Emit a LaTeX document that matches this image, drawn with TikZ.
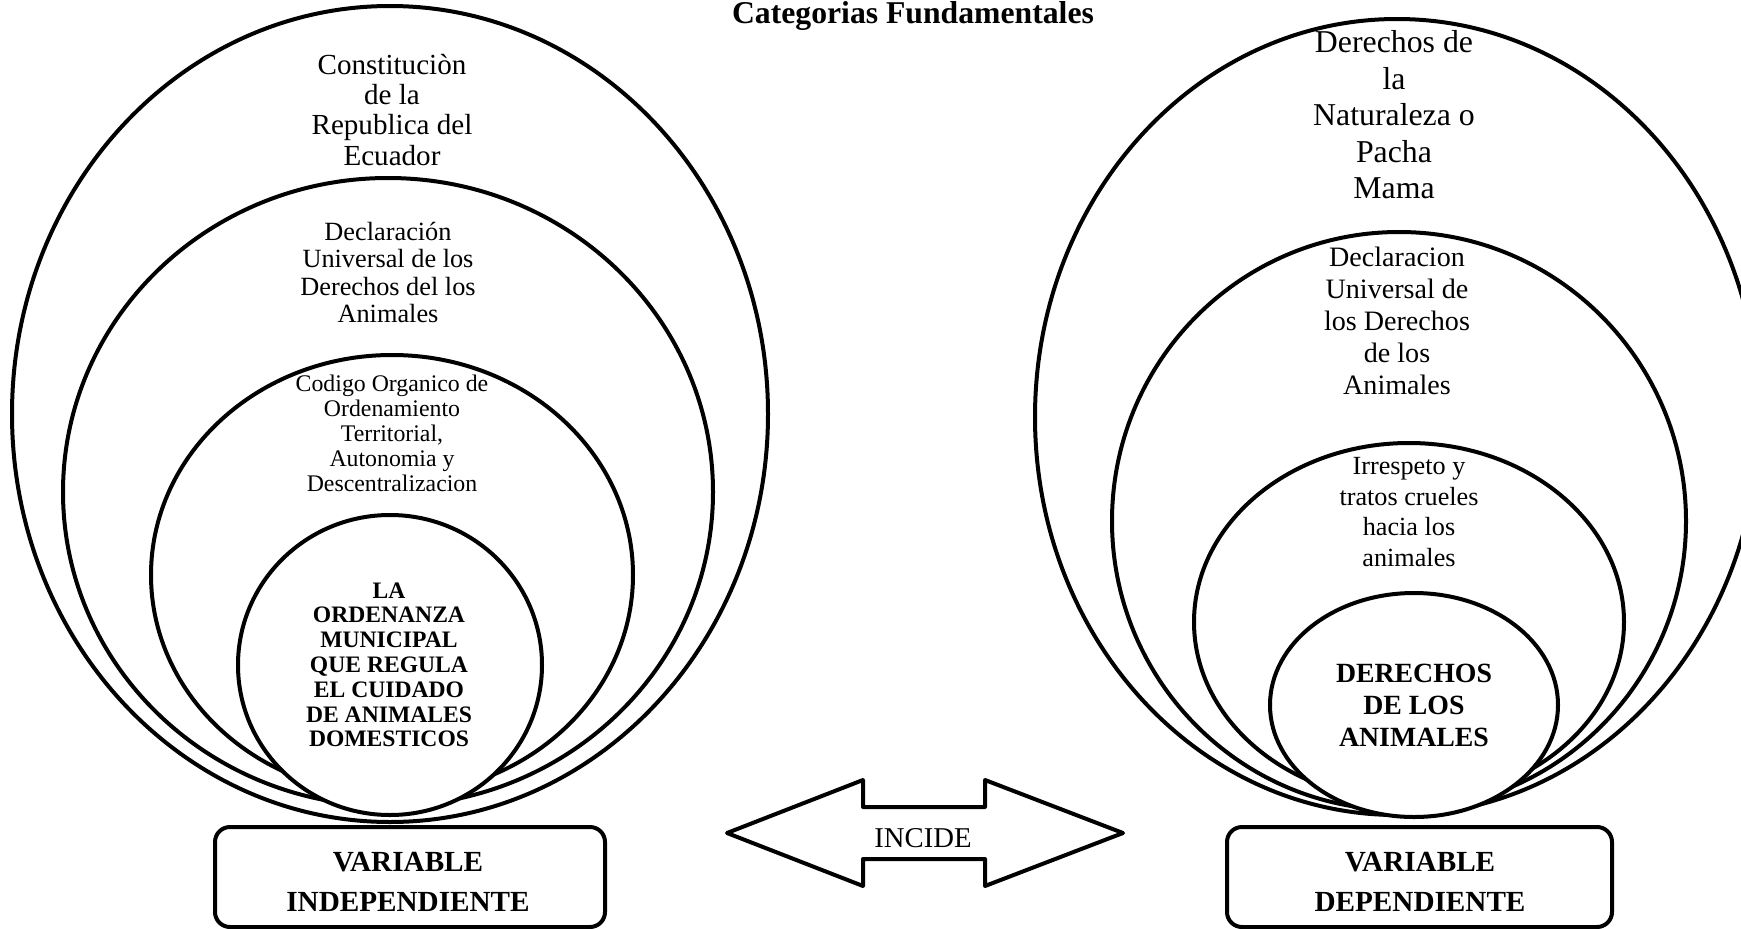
\documentclass[tikz,border=0pt]{standalone}
\usepackage{fontspec}
\setmainfont{Liberation Serif}
\usetikzlibrary{shapes.geometric}
\begin{document}
\begin{tikzpicture}[x=1pt,y=-1pt,
  ell/.style={ellipse, draw, fill=white, line width=4pt, inner sep=0pt, outer sep=0pt},
  txt/.style={align=center, inner sep=0pt, outer sep=0pt},
  varbox/.style={draw, line width=4pt, rounded corners=15pt, fill=white}]
\useasboundingbox (0,0) rectangle (1741,929);
\clip (0,0) rectangle (1741,929);
% title
\node[txt, anchor=base, font=\bfseries\fontsize{31.7}{34}\selectfont] (title) at (913,23) {Categorias Fundamentales};
% left ellipses
\node[ell, minimum width=756pt, minimum height=816pt] (L1) at (390,414) {};
\node[ell, minimum width=650pt, minimum height=628pt] (L2) at (388,492) {};
\node[ell, minimum width=482pt, minimum height=440pt] (L3) at (392,575) {};
\node[ell, minimum width=304pt, minimum height=300pt] (L4) at (390,665) {};
% left texts
\node[txt, font=\fontsize{29.1}{30.3}\selectfont] (tL1) at (392,109.6) {Constituciòn\\de la\\Republica del\\Ecuador};
\node[txt, font=\fontsize{26.3}{27.6}\selectfont] (tL2) at (388,272.5) {Declaración\\Universal de los\\Derechos del los\\Animales};
\node[txt, font=\fontsize{23.8}{24.8}\selectfont] (tL3) at (392,433.4) {Codigo Organico de\\Ordenamiento\\Territorial,\\Autonomia y\\Descentralizacion};
\node[txt, font=\bfseries\fontsize{23.6}{24.8}\selectfont] (tL4) at (389,664.8) {LA\\ORDENANZA\\MUNICIPAL\\QUE REGULA\\EL CUIDADO\\DE ANIMALES\\DOMESTICOS};
% right ellipses
\node[ell, minimum width=724pt, minimum height=796pt] (R1) at (1397,417) {};
\node[ell, minimum width=574pt, minimum height=578pt] (R2) at (1399,521) {};
\node[ell, minimum width=430pt, minimum height=358pt] (R3) at (1409,622) {};
\node[ell, minimum width=288pt, minimum height=224pt] (R4) at (1414,705) {};
% right texts
\node[txt, font=\fontsize{31.8}{36.5}\selectfont] (tR1) at (1394,115.1) {Derechos de\\la\\Naturaleza o\\Pacha\\Mama};
\node[txt, font=\fontsize{28.1}{32}\selectfont] (tR2) at (1397,320.4) {Declaracion\\Universal de\\los Derechos\\de los\\Animales};
\node[txt, font=\fontsize{26.2}{30.5}\selectfont] (tR3) at (1409,511.8) {Irrespeto y\\tratos crueles\\hacia los\\animales};
\node[txt, font=\bfseries\fontsize{27.8}{32}\selectfont] (tR4) at (1414,705.8) {DERECHOS\\DE LOS\\ANIMALES};
% boxes
\draw[varbox] (215,827) rectangle (605,927);
\draw[varbox] (1227,827) rectangle (1612,927);
\node[txt, font=\bfseries\fontsize{29.2}{40}\selectfont] (vi) at (408,882.3) {VARIABLE\\INDEPENDIENTE};
\node[txt, font=\bfseries\fontsize{29.2}{40}\selectfont] (vd) at (1420,882.3) {VARIABLE\\DEPENDIENTE};
% double arrow
\draw[line width=4pt, line join=round, fill=white] (727,833) -- (863,780) -- (863,807) -- (985,807) -- (985,780) -- (1123,833) -- (985,886) -- (985,859) -- (863,859) -- (863,886) -- cycle;
\node[txt, anchor=base, font=\fontsize{28.7}{30}\selectfont] (incide) at (923,847) {INCIDE};
\end{tikzpicture}
\end{document}
